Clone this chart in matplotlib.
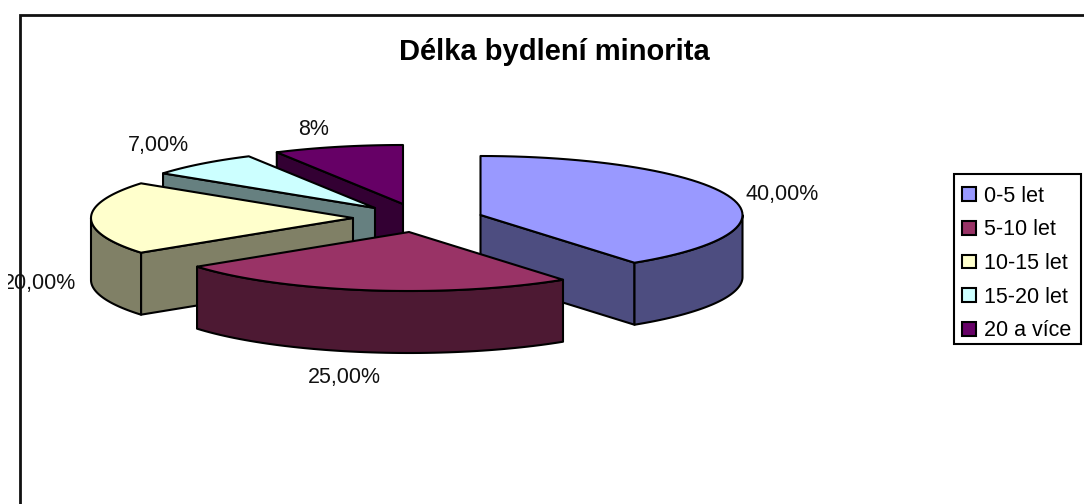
import numpy as np
import matplotlib
matplotlib.use("Agg")
import matplotlib.pyplot as plt
from matplotlib.patches import Patch, Polygon, Rectangle
from matplotlib.transforms import Bbox, TransformedBbox

plt.rcParams['font.family'] = ['Liberation Sans', 'DejaVu Sans']

title = "Délka bydlení minorita"
categories = ["0-5 let", "5-10 let", "10-15 let", "15-20 let", "20 a více"]
values = [40, 25, 20, 7, 8]
value_labels = ["40,00%", "25,00%", "20,00%", "7,00%", "8%"]
colors = ["#9999FF", "#993366", "#FFFFCC", "#CCFFFF", "#660066"]
side_colors = ["#4D4D80", "#4D1933", "#808066", "#668080", "#330033"]

# apex of each exploded slice, in pixels
apex_x = [480.5, 409, 353, 375, 403]
apex_y = [215, 232, 218, 208, 204]
label_x = [782, 344, 40, 158, 314]
label_y = [194.5, 377.5, 283.5, 145.5, 129.5]
draw_order = [4, 3, 2, 0, 1]

rx, ry, depth = 262, 59, 62

fig = plt.figure(figsize=(10.84, 5.04), dpi=100)
ax = fig.add_axes([0, 0, 1, 1])
ax.set_xlim(0, 1084)
ax.set_ylim(504, 0)
ax.axis("off")

stops = np.concatenate([[0], np.cumsum(values)]) / np.sum(values) * 360


def rim(cx, cy, a0, a1, n=60):
    t = np.radians(np.linspace(a0, a1, n))
    return np.column_stack([cx + rx * np.sin(t), cy - ry * np.cos(t)])


def add_poly(pts, color):
    ax.add_patch(Polygon(pts, closed=True, facecolor=color, edgecolor="black", lw=1.5, joinstyle="round"))


drop = np.array([0, depth])
for i in draw_order:
    a0, a1 = stops[i], stops[i + 1]
    apex = np.array([apex_x[i], apex_y[i]])

    # cut faces that look towards the viewer
    for a, show in ((a0, 180 < a0 < 360), (a1, 0 < a1 < 180)):
        if show:
            edge = rim(apex[0], apex[1], a, a, 1)[0]
            add_poly([apex, edge, edge + drop, apex + drop], side_colors[i])

    # outer wall, only the front half shows
    lo, hi = max(a0, 90), min(a1, 270)
    if lo < hi:
        wall = rim(apex[0], apex[1], lo, hi)
        add_poly(np.vstack([wall, wall[::-1] + drop]), side_colors[i])

    add_poly(np.vstack([[apex], rim(apex[0], apex[1], a0, a1)]), colors[i])

# chart frame: only the top and left lines are inside the picture
ax.plot([19.5, 19.5, 1084], [504, 14.5, 14.5], color="#111111", lw=2, solid_joinstyle="miter")

ax.text(554, 52.5, title, fontsize=21, fontweight="bold", ha="center", va="center")

clip = TransformedBbox(Bbox([[8, 0], [1084, 504]]), ax.transData)
for i, lab in enumerate(value_labels):
    t = ax.text(label_x[i], label_y[i], lab, fontsize=15.5, ha="center", va="center", color="#111111")
    t.set_clip_box(clip)
    t.set_clip_on(True)

# legend box is drawn apart so the rows can sit a bit low in it, as in the original
ax.add_patch(Rectangle((954, 174), 127, 170, facecolor="white", edgecolor="black", lw=1.5))
handles = [Patch(facecolor=c, edgecolor="black", lw=1.5) for c in colors]
leg = ax.legend(handles, categories, loc="upper left", bbox_to_anchor=(954, 177.5),
                bbox_transform=ax.transData, borderaxespad=0, fontsize=15.5,
                frameon=False, handlelength=0.62, handleheight=0.62, handletextpad=0.4,
                labelspacing=0.59, borderpad=0.38)

fig.savefig("out.png", dpi=100)
